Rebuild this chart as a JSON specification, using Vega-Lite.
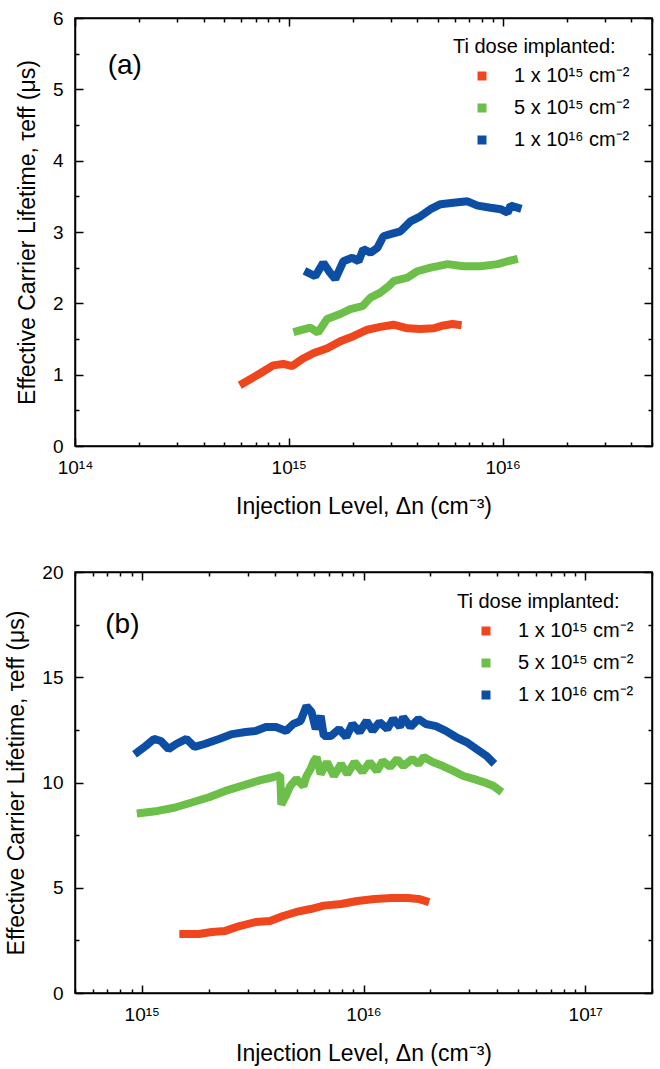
{
  "$schema": "https://vega.github.io/schema/vega-lite/v6.json",
  "padding": {"left": 5, "top": 8, "right": 5, "bottom": 5},
  "background": "white",
  "config": {
    "font": "Liberation Sans",
    "view": {"stroke": "black", "strokeWidth": 1.5},
    "axis": {
      "grid": false,
      "domainColor": "black",
      "domainWidth": 1.5,
      "tickColor": "black",
      "tickWidth": 1.5,
      "labelFont": "Liberation Sans",
      "labelFontSize": 19,
      "labelColor": "black",
      "titleFont": "Liberation Sans",
      "titleFontSize": 23,
      "titleFontWeight": "normal",
      "titleColor": "black",
      "labelFlush": false,
      "labelOverlap": false
    },
    "legend": {
      "titleFont": "Liberation Sans",
      "titleFontSize": 20,
      "titleFontWeight": "normal",
      "titleColor": "black",
      "labelFont": "Liberation Sans",
      "labelFontSize": 20,
      "labelColor": "black",
      "symbolType": "square",
      "symbolSize": 16,
      "symbolStrokeWidth": 5,
      "symbolOffset": 19,
      "labelOffset": 22,
      "rowPadding": 8,
      "titlePadding": 9
    }
  },
  "datasets": {
    "a": [
      {"dose": "1 x 10¹⁵ cm⁻²", "n": 6.12e14, "tau": 0.88},
      {"dose": "1 x 10¹⁵ cm⁻²", "n": 7.36e14, "tau": 1.02},
      {"dose": "1 x 10¹⁵ cm⁻²", "n": 8.45e14, "tau": 1.13},
      {"dose": "1 x 10¹⁵ cm⁻²", "n": 9.42e14, "tau": 1.15},
      {"dose": "1 x 10¹⁵ cm⁻²", "n": 1.038e15, "tau": 1.12},
      {"dose": "1 x 10¹⁵ cm⁻²", "n": 1.156e15, "tau": 1.22},
      {"dose": "1 x 10¹⁵ cm⁻²", "n": 1.302e15, "tau": 1.30},
      {"dose": "1 x 10¹⁵ cm⁻²", "n": 1.515e15, "tau": 1.37},
      {"dose": "1 x 10¹⁵ cm⁻²", "n": 1.742e15, "tau": 1.47},
      {"dose": "1 x 10¹⁵ cm⁻²", "n": 2.005e15, "tau": 1.54},
      {"dose": "1 x 10¹⁵ cm⁻²", "n": 2.33e15, "tau": 1.63},
      {"dose": "1 x 10¹⁵ cm⁻²", "n": 2.68e15, "tau": 1.67},
      {"dose": "1 x 10¹⁵ cm⁻²", "n": 3.09e15, "tau": 1.70},
      {"dose": "1 x 10¹⁵ cm⁻²", "n": 3.59e15, "tau": 1.65},
      {"dose": "1 x 10¹⁵ cm⁻²", "n": 4.13e15, "tau": 1.64},
      {"dose": "1 x 10¹⁵ cm⁻²", "n": 4.75e15, "tau": 1.65},
      {"dose": "1 x 10¹⁵ cm⁻²", "n": 5.29e15, "tau": 1.69},
      {"dose": "1 x 10¹⁵ cm⁻²", "n": 5.83e15, "tau": 1.71},
      {"dose": "1 x 10¹⁵ cm⁻²", "n": 6.16e15, "tau": 1.70},
      {"dose": "5 x 10¹⁵ cm⁻²", "n": 1.096e15, "tau": 1.61},
      {"dose": "5 x 10¹⁵ cm⁻²", "n": 1.26e15, "tau": 1.66},
      {"dose": "5 x 10¹⁵ cm⁻²", "n": 1.37e15, "tau": 1.59},
      {"dose": "5 x 10¹⁵ cm⁻²", "n": 1.51e15, "tau": 1.78},
      {"dose": "5 x 10¹⁵ cm⁻²", "n": 1.74e15, "tau": 1.85},
      {"dose": "5 x 10¹⁵ cm⁻²", "n": 1.94e15, "tau": 1.92},
      {"dose": "5 x 10¹⁵ cm⁻²", "n": 2.21e15, "tau": 1.96},
      {"dose": "5 x 10¹⁵ cm⁻²", "n": 2.41e15, "tau": 2.08},
      {"dose": "5 x 10¹⁵ cm⁻²", "n": 2.68e15, "tau": 2.15},
      {"dose": "5 x 10¹⁵ cm⁻²", "n": 2.93e15, "tau": 2.24},
      {"dose": "5 x 10¹⁵ cm⁻²", "n": 3.09e15, "tau": 2.31},
      {"dose": "5 x 10¹⁵ cm⁻²", "n": 3.59e15, "tau": 2.36},
      {"dose": "5 x 10¹⁵ cm⁻²", "n": 4.00e15, "tau": 2.45},
      {"dose": "5 x 10¹⁵ cm⁻²", "n": 4.60e15, "tau": 2.50},
      {"dose": "5 x 10¹⁵ cm⁻²", "n": 5.53e15, "tau": 2.55},
      {"dose": "5 x 10¹⁵ cm⁻²", "n": 6.56e15, "tau": 2.52},
      {"dose": "5 x 10¹⁵ cm⁻²", "n": 7.89e15, "tau": 2.52},
      {"dose": "5 x 10¹⁵ cm⁻²", "n": 9.48e15, "tau": 2.55},
      {"dose": "5 x 10¹⁵ cm⁻²", "n": 1.056e16, "tau": 2.59},
      {"dose": "5 x 10¹⁵ cm⁻²", "n": 1.13e16, "tau": 2.61},
      {"dose": "1 x 10¹⁶ cm⁻²", "n": 1.23e15, "tau": 2.43},
      {"dose": "1 x 10¹⁶ cm⁻²", "n": 1.33e15, "tau": 2.38},
      {"dose": "1 x 10¹⁶ cm⁻²", "n": 1.45e15, "tau": 2.57},
      {"dose": "1 x 10¹⁶ cm⁻²", "n": 1.56e15, "tau": 2.43},
      {"dose": "1 x 10¹⁶ cm⁻²", "n": 1.65e15, "tau": 2.34},
      {"dose": "1 x 10¹⁶ cm⁻²", "n": 1.80e15, "tau": 2.59},
      {"dose": "1 x 10¹⁶ cm⁻²", "n": 1.98e15, "tau": 2.64},
      {"dose": "1 x 10¹⁶ cm⁻²", "n": 2.12e15, "tau": 2.59},
      {"dose": "1 x 10¹⁶ cm⁻²", "n": 2.23e15, "tau": 2.76},
      {"dose": "1 x 10¹⁶ cm⁻²", "n": 2.41e15, "tau": 2.71},
      {"dose": "1 x 10¹⁶ cm⁻²", "n": 2.60e15, "tau": 2.78},
      {"dose": "1 x 10¹⁶ cm⁻²", "n": 2.77e15, "tau": 2.94},
      {"dose": "1 x 10¹⁶ cm⁻²", "n": 2.99e15, "tau": 2.97},
      {"dose": "1 x 10¹⁶ cm⁻²", "n": 3.33e15, "tau": 3.01},
      {"dose": "1 x 10¹⁶ cm⁻²", "n": 3.71e15, "tau": 3.15},
      {"dose": "1 x 10¹⁶ cm⁻²", "n": 4.13e15, "tau": 3.22},
      {"dose": "1 x 10¹⁶ cm⁻²", "n": 4.60e15, "tau": 3.32},
      {"dose": "1 x 10¹⁶ cm⁻²", "n": 5.13e15, "tau": 3.39},
      {"dose": "1 x 10¹⁶ cm⁻²", "n": 5.89e15, "tau": 3.41},
      {"dose": "1 x 10¹⁶ cm⁻²", "n": 6.85e15, "tau": 3.43},
      {"dose": "1 x 10¹⁶ cm⁻²", "n": 7.64e15, "tau": 3.37},
      {"dose": "1 x 10¹⁶ cm⁻²", "n": 8.79e15, "tau": 3.34},
      {"dose": "1 x 10¹⁶ cm⁻²", "n": 9.80e15, "tau": 3.32},
      {"dose": "1 x 10¹⁶ cm⁻²", "n": 1.056e16, "tau": 3.27},
      {"dose": "1 x 10¹⁶ cm⁻²", "n": 1.09e16, "tau": 3.37},
      {"dose": "1 x 10¹⁶ cm⁻²", "n": 1.175e16, "tau": 3.34}
    ],
    "b": [
      {"dose": "1 x 10¹⁵ cm⁻²", "n": 1.54e15, "tau": 2.80},
      {"dose": "1 x 10¹⁵ cm⁻²", "n": 1.81e15, "tau": 2.80},
      {"dose": "1 x 10¹⁵ cm⁻²", "n": 2.07e15, "tau": 2.90},
      {"dose": "1 x 10¹⁵ cm⁻²", "n": 2.38e15, "tau": 2.95},
      {"dose": "1 x 10¹⁵ cm⁻²", "n": 2.76e15, "tau": 3.18},
      {"dose": "1 x 10¹⁵ cm⁻²", "n": 3.26e15, "tau": 3.37},
      {"dose": "1 x 10¹⁵ cm⁻²", "n": 3.79e15, "tau": 3.42},
      {"dose": "1 x 10¹⁵ cm⁻²", "n": 4.34e15, "tau": 3.66},
      {"dose": "1 x 10¹⁵ cm⁻²", "n": 4.98e15, "tau": 3.85},
      {"dose": "1 x 10¹⁵ cm⁻²", "n": 5.77e15, "tau": 3.99},
      {"dose": "1 x 10¹⁵ cm⁻²", "n": 6.62e15, "tau": 4.15},
      {"dose": "1 x 10¹⁵ cm⁻²", "n": 7.92e15, "tau": 4.23},
      {"dose": "1 x 10¹⁵ cm⁻²", "n": 9.38e15, "tau": 4.37},
      {"dose": "1 x 10¹⁵ cm⁻²", "n": 1.12e16, "tau": 4.47},
      {"dose": "1 x 10¹⁵ cm⁻²", "n": 1.34e16, "tau": 4.51},
      {"dose": "1 x 10¹⁵ cm⁻²", "n": 1.59e16, "tau": 4.51},
      {"dose": "1 x 10¹⁵ cm⁻²", "n": 1.77e16, "tau": 4.47},
      {"dose": "1 x 10¹⁵ cm⁻²", "n": 1.90e16, "tau": 4.37},
      {"dose": "5 x 10¹⁵ cm⁻²", "n": 9.90e14, "tau": 8.55},
      {"dose": "5 x 10¹⁵ cm⁻²", "n": 1.18e15, "tau": 8.65},
      {"dose": "5 x 10¹⁵ cm⁻²", "n": 1.40e15, "tau": 8.80},
      {"dose": "5 x 10¹⁵ cm⁻²", "n": 1.68e15, "tau": 9.05},
      {"dose": "5 x 10¹⁵ cm⁻²", "n": 2.01e15, "tau": 9.30},
      {"dose": "5 x 10¹⁵ cm⁻²", "n": 2.38e15, "tau": 9.60},
      {"dose": "5 x 10¹⁵ cm⁻²", "n": 2.85e15, "tau": 9.85},
      {"dose": "5 x 10¹⁵ cm⁻²", "n": 3.40e15, "tau": 10.10},
      {"dose": "5 x 10¹⁵ cm⁻²", "n": 3.91e15, "tau": 10.25},
      {"dose": "5 x 10¹⁵ cm⁻²", "n": 4.21e15, "tau": 10.35},
      {"dose": "5 x 10¹⁵ cm⁻²", "n": 4.26e15, "tau": 8.95},
      {"dose": "5 x 10¹⁵ cm⁻²", "n": 4.48e15, "tau": 9.40},
      {"dose": "5 x 10¹⁵ cm⁻²", "n": 4.67e15, "tau": 9.83},
      {"dose": "5 x 10¹⁵ cm⁻²", "n": 4.98e15, "tau": 10.17},
      {"dose": "5 x 10¹⁵ cm⁻²", "n": 5.36e15, "tau": 9.83},
      {"dose": "5 x 10¹⁵ cm⁻²", "n": 5.53e15, "tau": 10.30},
      {"dose": "5 x 10¹⁵ cm⁻²", "n": 5.77e15, "tau": 10.64},
      {"dose": "5 x 10¹⁵ cm⁻²", "n": 5.96e15, "tau": 11.00},
      {"dose": "5 x 10¹⁵ cm⁻²", "n": 6.15e15, "tau": 11.20},
      {"dose": "5 x 10¹⁵ cm⁻²", "n": 6.41e15, "tau": 10.40},
      {"dose": "5 x 10¹⁵ cm⁻²", "n": 6.84e15, "tau": 10.97},
      {"dose": "5 x 10¹⁵ cm⁻²", "n": 7.36e15, "tau": 10.31},
      {"dose": "5 x 10¹⁵ cm⁻²", "n": 7.92e15, "tau": 10.88},
      {"dose": "5 x 10¹⁵ cm⁻²", "n": 8.46e15, "tau": 10.40},
      {"dose": "5 x 10¹⁵ cm⁻²", "n": 9.11e15, "tau": 10.97},
      {"dose": "5 x 10¹⁵ cm⁻²", "n": 9.90e15, "tau": 10.50},
      {"dose": "5 x 10¹⁵ cm⁻²", "n": 1.066e16, "tau": 10.97},
      {"dose": "5 x 10¹⁵ cm⁻²", "n": 1.15e16, "tau": 10.55},
      {"dose": "5 x 10¹⁵ cm⁻²", "n": 1.22e16, "tau": 11.02},
      {"dose": "5 x 10¹⁵ cm⁻²", "n": 1.32e16, "tau": 10.74},
      {"dose": "5 x 10¹⁵ cm⁻²", "n": 1.42e16, "tau": 11.12},
      {"dose": "5 x 10¹⁵ cm⁻²", "n": 1.51e16, "tau": 10.78},
      {"dose": "5 x 10¹⁵ cm⁻²", "n": 1.66e16, "tau": 11.12},
      {"dose": "5 x 10¹⁵ cm⁻²", "n": 1.77e16, "tau": 10.88},
      {"dose": "5 x 10¹⁵ cm⁻²", "n": 1.87e16, "tau": 11.21},
      {"dose": "5 x 10¹⁵ cm⁻²", "n": 2.05e16, "tau": 10.97},
      {"dose": "5 x 10¹⁵ cm⁻²", "n": 2.28e16, "tau": 10.78},
      {"dose": "5 x 10¹⁵ cm⁻²", "n": 2.54e16, "tau": 10.55},
      {"dose": "5 x 10¹⁵ cm⁻²", "n": 2.82e16, "tau": 10.31},
      {"dose": "5 x 10¹⁵ cm⁻²", "n": 3.13e16, "tau": 10.17},
      {"dose": "5 x 10¹⁵ cm⁻²", "n": 3.48e16, "tau": 10.02},
      {"dose": "5 x 10¹⁵ cm⁻²", "n": 3.86e16, "tau": 9.83},
      {"dose": "5 x 10¹⁵ cm⁻²", "n": 4.07e16, "tau": 9.65},
      {"dose": "1 x 10¹⁶ cm⁻²", "n": 9.59e14, "tau": 11.45},
      {"dose": "1 x 10¹⁶ cm⁻²", "n": 1.04e15, "tau": 11.73},
      {"dose": "1 x 10¹⁶ cm⁻²", "n": 1.135e15, "tau": 12.07},
      {"dose": "1 x 10¹⁶ cm⁻²", "n": 1.22e15, "tau": 11.97},
      {"dose": "1 x 10¹⁶ cm⁻²", "n": 1.32e15, "tau": 11.59},
      {"dose": "1 x 10¹⁶ cm⁻²", "n": 1.43e15, "tau": 11.83},
      {"dose": "1 x 10¹⁶ cm⁻²", "n": 1.59e15, "tau": 12.07},
      {"dose": "1 x 10¹⁶ cm⁻²", "n": 1.73e15, "tau": 11.69},
      {"dose": "1 x 10¹⁶ cm⁻²", "n": 1.92e15, "tau": 11.83},
      {"dose": "1 x 10¹⁶ cm⁻²", "n": 2.23e15, "tau": 12.07},
      {"dose": "1 x 10¹⁶ cm⁻²", "n": 2.56e15, "tau": 12.30},
      {"dose": "1 x 10¹⁶ cm⁻²", "n": 2.94e15, "tau": 12.40},
      {"dose": "1 x 10¹⁶ cm⁻²", "n": 3.26e15, "tau": 12.45},
      {"dose": "1 x 10¹⁶ cm⁻²", "n": 3.63e15, "tau": 12.64},
      {"dose": "1 x 10¹⁶ cm⁻²", "n": 4.03e15, "tau": 12.64},
      {"dose": "1 x 10¹⁶ cm⁻²", "n": 4.48e15, "tau": 12.45},
      {"dose": "1 x 10¹⁶ cm⁻²", "n": 4.82e15, "tau": 12.78},
      {"dose": "1 x 10¹⁶ cm⁻²", "n": 5.20e15, "tau": 12.92},
      {"dose": "1 x 10¹⁶ cm⁻²", "n": 5.53e15, "tau": 13.63},
      {"dose": "1 x 10¹⁶ cm⁻²", "n": 5.83e15, "tau": 13.35},
      {"dose": "1 x 10¹⁶ cm⁻²", "n": 6.09e15, "tau": 12.54},
      {"dose": "1 x 10¹⁶ cm⁻²", "n": 6.41e15, "tau": 13.16},
      {"dose": "1 x 10¹⁶ cm⁻²", "n": 6.62e15, "tau": 12.21},
      {"dose": "1 x 10¹⁶ cm⁻²", "n": 7.13e15, "tau": 12.21},
      {"dose": "1 x 10¹⁶ cm⁻²", "n": 7.76e15, "tau": 12.54},
      {"dose": "1 x 10¹⁶ cm⁻²", "n": 8.36e15, "tau": 12.16},
      {"dose": "1 x 10¹⁶ cm⁻²", "n": 8.91e15, "tau": 12.78},
      {"dose": "1 x 10¹⁶ cm⁻²", "n": 9.60e15, "tau": 12.40},
      {"dose": "1 x 10¹⁶ cm⁻²", "n": 1.033e16, "tau": 12.92},
      {"dose": "1 x 10¹⁶ cm⁻²", "n": 1.10e16, "tau": 12.45},
      {"dose": "1 x 10¹⁶ cm⁻²", "n": 1.18e16, "tau": 12.87},
      {"dose": "1 x 10¹⁶ cm⁻²", "n": 1.28e16, "tau": 12.54},
      {"dose": "1 x 10¹⁶ cm⁻²", "n": 1.36e16, "tau": 13.02},
      {"dose": "1 x 10¹⁶ cm⁻²", "n": 1.46e16, "tau": 12.64},
      {"dose": "1 x 10¹⁶ cm⁻²", "n": 1.51e16, "tau": 13.11},
      {"dose": "1 x 10¹⁶ cm⁻²", "n": 1.63e16, "tau": 12.64},
      {"dose": "1 x 10¹⁶ cm⁻²", "n": 1.77e16, "tau": 13.02},
      {"dose": "1 x 10¹⁶ cm⁻²", "n": 1.91e16, "tau": 12.78},
      {"dose": "1 x 10¹⁶ cm⁻²", "n": 2.12e16, "tau": 12.68},
      {"dose": "1 x 10¹⁶ cm⁻²", "n": 2.35e16, "tau": 12.45},
      {"dose": "1 x 10¹⁶ cm⁻²", "n": 2.61e16, "tau": 12.16},
      {"dose": "1 x 10¹⁶ cm⁻²", "n": 2.91e16, "tau": 11.92},
      {"dose": "1 x 10¹⁶ cm⁻²", "n": 3.23e16, "tau": 11.59},
      {"dose": "1 x 10¹⁶ cm⁻²", "n": 3.59e16, "tau": 11.26},
      {"dose": "1 x 10¹⁶ cm⁻²", "n": 3.78e16, "tau": 11.02}
    ]
  },
  "resolve": {"scale": {"color": "independent"}},
  "spacing": 43,
  "vconcat": [
    {
      "width": 577,
      "height": 428,
      "resolve": {"axis": {"x": "independent", "y": "independent"}},
      "layer": [
        {
          "data": {"name": "a"},
          "mark": {"type": "line", "strokeWidth": 8, "strokeCap": "square", "strokeJoin": "bevel"},
          "encoding": {
            "x": {
              "field": "n", "type": "quantitative",
              "scale": {"type": "log", "domain": [1e14, 5e16], "nice": false},
              "axis": {
                "orient": "bottom",
                "values": [1e14, 2e14, 3e14, 4e14, 5e14, 6e14, 7e14, 8e14, 9e14, 1e15, 2e15, 3e15, 4e15, 5e15, 6e15, 7e15, 8e15, 9e15, 1e16, 2e16, 3e16, 4e16, 5e16],
                "labelExpr": "datum.value == 1e14 ? '10¹⁴' : datum.value == 1e15 ? '10¹⁵' : datum.value == 1e16 ? '10¹⁶' : ''",
                "tickSize": {"condition": {"test": "datum.value == 1e14 || datum.value == 1e15 || datum.value == 1e16", "value": -8}, "value": -4},
                "labelPadding": 20,
                "title": "Injection Level, Δn (cm⁻³)",
                "titlePadding": 14
              }
            },
            "y": {
              "field": "tau", "type": "quantitative",
              "scale": {"domain": [0, 6], "nice": false},
              "axis": {
                "orient": "left",
                "values": [0, 0.5, 1, 1.5, 2, 2.5, 3, 3.5, 4, 4.5, 5, 5.5, 6],
                "labelExpr": "datum.value % 1 == 0 ? '' + datum.value : ''",
                "tickSize": {"condition": {"test": "datum.value % 1 == 0", "value": -8}, "value": -4},
                "labelPadding": 20,
                "title": "Effective Carrier Lifetime, τeff (μs)",
                "titlePadding": 13
              }
            },
            "color": {
              "field": "dose", "type": "nominal",
              "scale": {"domain": ["1 x 10¹⁵ cm⁻²", "5 x 10¹⁵ cm⁻²", "1 x 10¹⁶ cm⁻²"], "range": ["#f0461e", "#6cbf48", "#0c4ea4"]},
              "legend": {"title": "Ti dose implanted:", "orient": "none", "legendX": 378, "legendY": 19}
            }
          }
        },
        {
          "data": {"values": [{"label": "(a)"}]},
          "mark": {"type": "text", "fontSize": 28, "align": "center", "baseline": "middle", "color": "black"},
          "encoding": {
            "text": {"field": "label"},
            "x": {
              "datum": 1.71e14, "type": "quantitative",
              "scale": {"type": "log", "domain": [1e14, 5e16], "nice": false},
              "axis": {
                "orient": "top",
                "values": [1e14, 2e14, 3e14, 4e14, 5e14, 6e14, 7e14, 8e14, 9e14, 1e15, 2e15, 3e15, 4e15, 5e15, 6e15, 7e15, 8e15, 9e15, 1e16, 2e16, 3e16, 4e16, 5e16],
                "labels": false,
                "tickSize": {"condition": {"test": "datum.value == 1e14 || datum.value == 1e15 || datum.value == 1e16", "value": -8}, "value": -4},
                "title": null
              }
            },
            "y": {
              "datum": 5.33, "type": "quantitative",
              "scale": {"domain": [0, 6], "nice": false},
              "axis": {
                "orient": "right",
                "values": [0, 0.5, 1, 1.5, 2, 2.5, 3, 3.5, 4, 4.5, 5, 5.5, 6],
                "labels": false,
                "tickSize": {"condition": {"test": "datum.value % 1 == 0", "value": -8}, "value": -4},
                "title": null
              }
            }
          }
        }
      ]
    },
    {
      "width": 577,
      "height": 421,
      "resolve": {"axis": {"x": "independent", "y": "independent"}},
      "layer": [
        {
          "data": {"name": "b"},
          "mark": {"type": "line", "strokeWidth": 8, "strokeCap": "square", "strokeJoin": "bevel"},
          "encoding": {
            "x": {
              "field": "n", "type": "quantitative",
              "scale": {"type": "log", "domain": [5e14, 2e17], "nice": false},
              "axis": {
                "orient": "bottom",
                "values": [5e14, 6e14, 7e14, 8e14, 9e14, 1e15, 2e15, 3e15, 4e15, 5e15, 6e15, 7e15, 8e15, 9e15, 1e16, 2e16, 3e16, 4e16, 5e16, 6e16, 7e16, 8e16, 9e16, 1e17, 2e17],
                "labelExpr": "datum.value == 1e15 ? '10¹⁵' : datum.value == 1e16 ? '10¹⁶' : datum.value == 1e17 ? '10¹⁷' : ''",
                "tickSize": {"condition": {"test": "datum.value == 1e15 || datum.value == 1e16 || datum.value == 1e17", "value": -8}, "value": -4},
                "labelPadding": 20,
                "title": "Injection Level, Δn (cm⁻³)",
                "titlePadding": 14
              }
            },
            "y": {
              "field": "tau", "type": "quantitative",
              "scale": {"domain": [0, 20], "nice": false},
              "axis": {
                "orient": "left",
                "values": [0, 2.5, 5, 7.5, 10, 12.5, 15, 17.5, 20],
                "labelExpr": "datum.value % 5 == 0 ? '' + datum.value : ''",
                "tickSize": {"condition": {"test": "datum.value % 5 == 0", "value": -8}, "value": -4},
                "labelPadding": 20,
                "title": "Effective Carrier Lifetime, τeff (μs)",
                "titlePadding": 13
              }
            },
            "color": {
              "field": "dose", "type": "nominal",
              "scale": {"domain": ["1 x 10¹⁵ cm⁻²", "5 x 10¹⁵ cm⁻²", "1 x 10¹⁶ cm⁻²"], "range": ["#f0461e", "#6cbf48", "#0c4ea4"]},
              "legend": {"title": "Ti dose implanted:", "orient": "none", "legendX": 382, "legendY": 20}
            }
          }
        },
        {
          "data": {"values": [{"label": "(b)"}]},
          "mark": {"type": "text", "fontSize": 28, "align": "center", "baseline": "middle", "color": "black"},
          "encoding": {
            "text": {"field": "label"},
            "x": {
              "datum": 8.18e14, "type": "quantitative",
              "scale": {"type": "log", "domain": [5e14, 2e17], "nice": false},
              "axis": {
                "orient": "top",
                "values": [5e14, 6e14, 7e14, 8e14, 9e14, 1e15, 2e15, 3e15, 4e15, 5e15, 6e15, 7e15, 8e15, 9e15, 1e16, 2e16, 3e16, 4e16, 5e16, 6e16, 7e16, 8e16, 9e16, 1e17, 2e17],
                "labels": false,
                "tickSize": {"condition": {"test": "datum.value == 1e15 || datum.value == 1e16 || datum.value == 1e17", "value": -8}, "value": -4},
                "title": null
              }
            },
            "y": {
              "datum": 17.48, "type": "quantitative",
              "scale": {"domain": [0, 20], "nice": false},
              "axis": {
                "orient": "right",
                "values": [0, 2.5, 5, 7.5, 10, 12.5, 15, 17.5, 20],
                "labels": false,
                "tickSize": {"condition": {"test": "datum.value % 5 == 0", "value": -8}, "value": -4},
                "title": null
              }
            }
          }
        }
      ]
    }
  ]
}
